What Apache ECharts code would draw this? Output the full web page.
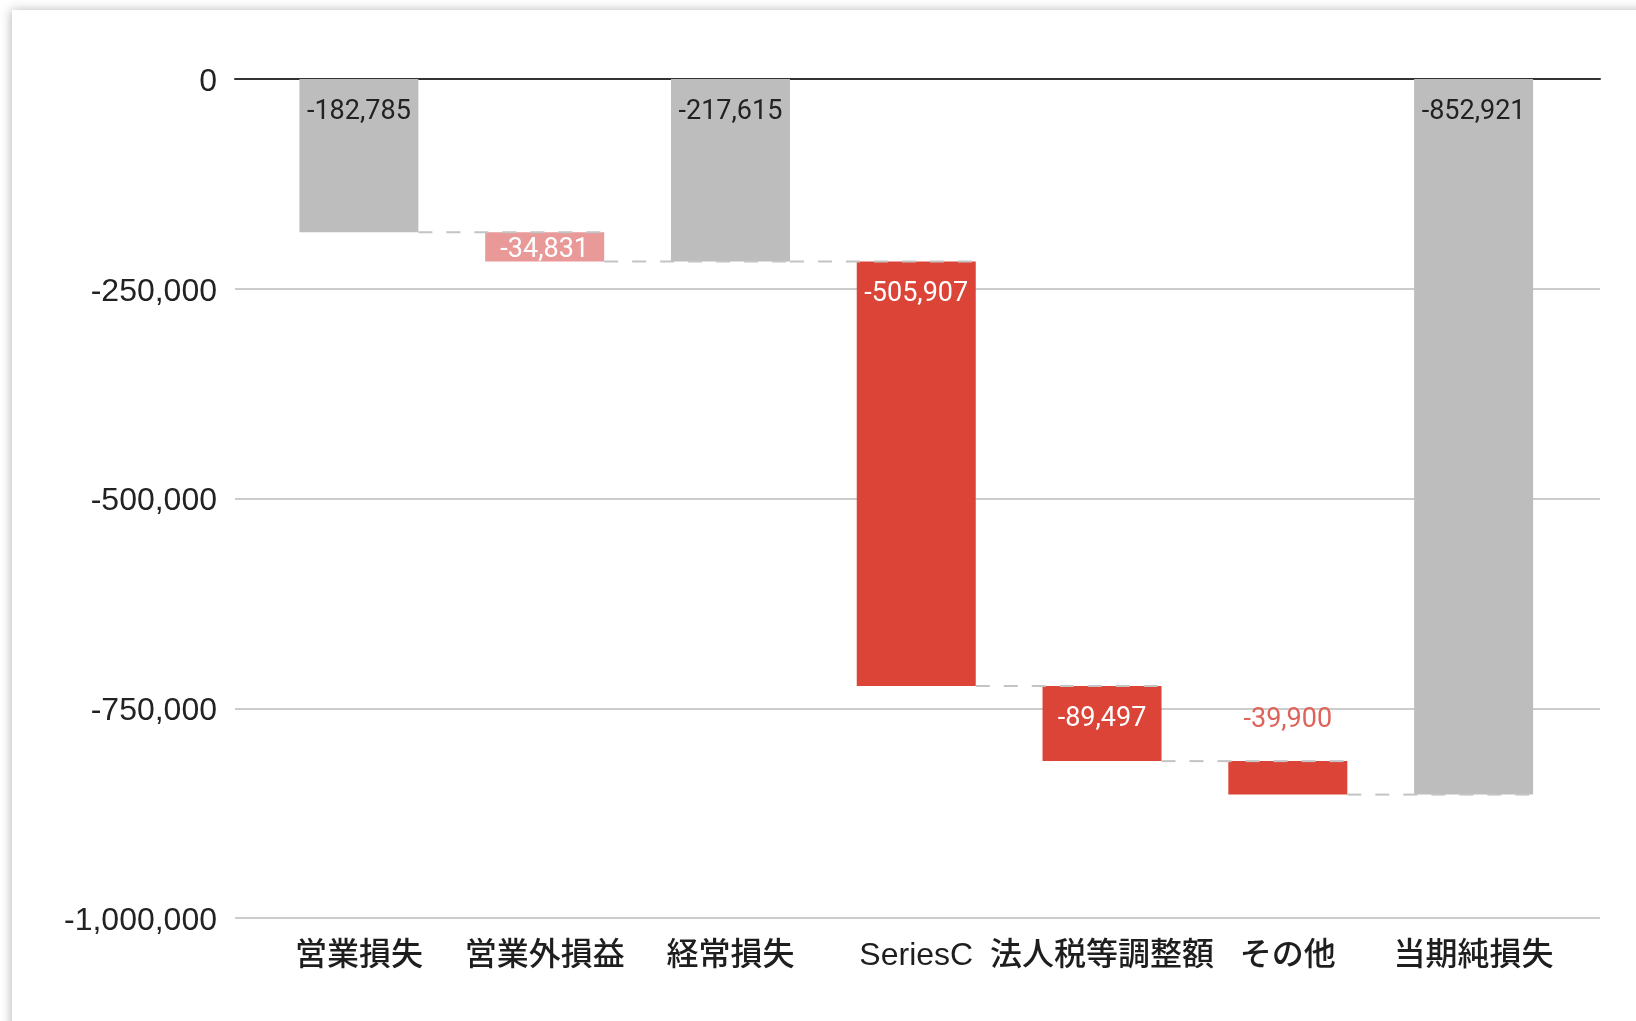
<!DOCTYPE html>
<html>
<head>
<meta charset="utf-8">
<script src="https://cdn.jsdelivr.net/npm/echarts@6/dist/echarts.min.js"></script>
<style>
html,body{margin:0;padding:0;background:#fff;}
#chart{width:1636px;height:1021px;}
</style>
</head>
<body>
<div id="chart"></div>
<script>
// ---- data ----
const categories = ['営業損失', '営業外損益', '経常損失', 'SeriesC', '法人税等調整額', 'その他', '当期純損失'];
const values = [-182785, -34831, -217615, -505907, -89497, -39900, -852921];
const isTotal = [true, false, true, false, false, false, true];
const yMin = -1000000;
const yMax = 0;
const yStep = 250000;

// ---- styles ----
const GRAY = '#bdbdbd';
const RED = '#db4437';
const PINK = '#ea9999';
const BAR_W = 119;

// waterfall bases and running levels (computed from the values)
const bases = [];
const ends = [];
let run = 0;
values.forEach((v, i) => {
  if (isTotal[i]) { bases.push(0); run = v; }
  else { bases.push(run); run += v; }
  ends.push(run);
});

const fmt = v => v.toLocaleString('en-US');

const valueData = values.map((v, i) => {
  let color, label;
  if (isTotal[i]) {
    color = GRAY;
    label = { position: 'insideTop', distance: 18, color: '#222' };
  } else if (i === 1) {
    color = PINK;
    label = { position: 'inside', offset: [0, 3], color: '#fff' };
  } else if (i === 5) {
    color = RED;
    label = { position: 'top', distance: 26, color: '#e0635a' };
  } else {
    color = RED;
    label = { position: 'insideTop', distance: 18, color: '#fff' };
  }
  return { value: v, itemStyle: { color }, label };
});

const connectorData = ends.slice(0, ends.length - 1).map((lvl, i) => [i, lvl]);

const chart = echarts.init(document.getElementById('chart'));
chart.setOption({
  animation: false,
  graphic: [{
    type: 'rect', silent: true, z: -10,
    shape: { x: 12, y: 10, width: 1700, height: 1100 },
    style: { fill: '#fff', shadowBlur: 10, shadowColor: 'rgba(0,0,0,0.28)', shadowOffsetX: -1 }
  }],
  grid: [
    { left: 235, right: 36, top: 79, bottom: 103 },
    { left: 266, right: 69.5, top: 79, bottom: 103 }
  ],
  xAxis: [
    {
      gridIndex: 0, type: 'category', data: categories,
      axisLine: { show: true, onZero: true, lineStyle: { color: '#333', width: 2 } },
      axisTick: { show: false }, axisLabel: { show: false }, splitLine: { show: false }
    },
    {
      gridIndex: 1, type: 'category', data: categories,
      axisLine: { show: false }, axisTick: { show: false },
      axisLabel: {
        interval: 0, hideOverlap: false, fontSize: 32, lineHeight: 32, margin: 22,
        fontFamily: '"Liberation Sans", "Noto Sans CJK JP"', fontWeight: 500, color: '#1e1e1e'
      }
    }
  ],
  yAxis: [
    {
      gridIndex: 0, type: 'value', min: yMin, max: yMax, interval: yStep,
      axisLine: { show: false }, axisTick: { show: false },
      axisLabel: {
        margin: 18,
        formatter: v => '{a|' + fmt(v) + '}',
        rich: {
          a: { fontSize: 32, fontFamily: '"Liberation Sans", Arial', color: '#222', padding: [6, 0, 0, 0] }
        }
      },
      splitLine: { lineStyle: { color: '#cccccc', width: 2 } }
    },
    {
      gridIndex: 1, type: 'value', min: yMin, max: yMax, interval: yStep, show: false,
      splitLine: { show: false }
    }
  ],
  series: [
    {
      type: 'bar', xAxisIndex: 1, yAxisIndex: 1, stack: 'wf', barWidth: BAR_W,
      itemStyle: { color: 'transparent' }, silent: true, label: { show: false },
      data: bases
    },
    {
      type: 'bar', xAxisIndex: 1, yAxisIndex: 1, stack: 'wf', barWidth: BAR_W,
      label: { show: true, fontSize: 27, lineHeight: 30, fontFamily: 'Roboto', formatter: p => fmt(p.value) },
      data: valueData
    },
    {
      type: 'custom', xAxisIndex: 1, yAxisIndex: 1, z: 5, clip: false, silent: true,
      data: connectorData,
      renderItem: (params, api) => {
        const i = api.value(0), v = api.value(1);
        const p0 = api.coord([i, v]);
        const p1 = api.coord([i + 1, v]);
        const h = BAR_W / 2;
        return {
          type: 'line',
          shape: { x1: p0[0] + h, y1: p0[1], x2: p1[0] + h, y2: p1[1] },
          style: { stroke: '#c4c4c4', lineWidth: 2, lineDash: [14, 14] }
        };
      }
    }
  ]
});
</script>
</body>
</html>
